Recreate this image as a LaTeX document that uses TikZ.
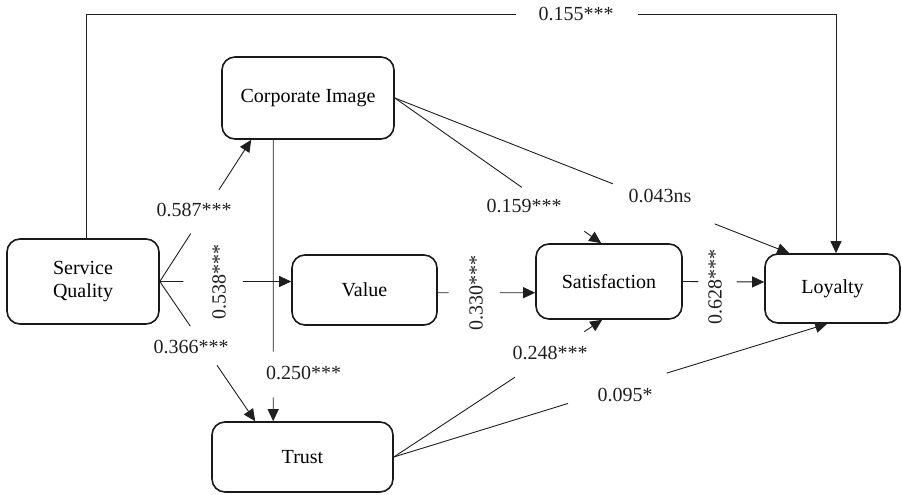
\documentclass[tikz,border=0pt]{standalone}
\usepackage{fontspec}
\setmainfont{Liberation Serif}
\usetikzlibrary{arrows.meta,calc}
\begin{document}
\begin{tikzpicture}[x=1pt,y=-1pt,
  box/.style={draw=black!90, line width=1.6pt, rounded corners=13pt, inner sep=0pt,
    align=center, font=\fontsize{20}{23}\selectfont},
  conn/.style={draw=black!88, line width=0.9pt},
  arr/.style={conn, -{Triangle[length=12pt,width=11pt]}},
  lbl/.style={font=\fontsize{20}{24}\selectfont, inner sep=0pt, text=black!88}]
\useasboundingbox (0,0) rectangle (902,495);
% nodes
\node[box, minimum width=152pt, minimum height=85pt] (sq) at (83,281.5) {Service\\Quality};
\node[box, minimum width=172pt, minimum height=82pt] (ci) at (308,98) {Corporate Image};
\node[box, minimum width=145pt, minimum height=70pt] (va) at (364.5,290) {Value};
\node[box, minimum width=181pt, minimum height=70pt] (tr) at (302.5,457) {Trust};
\node[box, minimum width=146pt, minimum height=75pt] (sa) at (609,281.5) {Satisfaction};
\node[box, minimum width=135pt, minimum height=69pt] (lo) at (832.5,288.5) {Loyalty};
% connector end points on the boxes
\coordinate (sqE) at (sq.east);
\coordinate (ciE) at (ci.east);
\coordinate (ciT) at ([xshift=30pt]ci.south west);
\coordinate (ciB) at ([xshift=52pt]ci.south west);
\coordinate (vaW) at ([yshift=8.5pt]va.west);
\coordinate (vaE) at ([yshift=-2.7pt]va.east);
\coordinate (trT1) at ([xshift=44pt]tr.north west);
\coordinate (trT2) at ([xshift=62pt]tr.north west);
\coordinate (trE) at (tr.east);
\coordinate (saW) at ([yshift=-11.2pt]sa.west);
\coordinate (saE) at (sa.east);
\coordinate (saT) at ([xshift=66pt]sa.north west);
\coordinate (saB) at ([xshift=67pt]sa.south west);
\coordinate (loW) at ([yshift=6.5pt]lo.west);
\coordinate (loT1) at ([xshift=25pt]lo.north west);
\coordinate (loT2) at ([xshift=3.5pt]lo.north);
\coordinate (loB) at ([xshift=63pt]lo.south west);
\coordinate (sqT) at ([xshift=3pt]sq.north);
\coordinate (g1) at (516,14);
\coordinate (g2) at (638,14);
% connectors (with gaps for the labels)
\draw[arr] (sqE) -- ($(sqE)!0.338!(ciT)$) ($(sqE)!0.648!(ciT)$) -- (ciT);
\draw[arr] (sqE) -- ($(sqE)!0.18!(vaW)$) ($(sqE)!0.632!(vaW)$) -- (vaW);
\draw[arr] (sqE) -- ($(sqE)!0.32!(trT1)$) ($(sqE)!0.60!(trT1)$) -- (trT1);
\draw[arr] (ciB) -- ($(ciB)!0.753!(trT2)$) ($(ciB)!0.915!(trT2)$) -- (trT2);
\draw[arr] (ciE) -- ($(ciE)!0.615!(saT)$) ($(ciE)!0.918!(saT)$) -- (saT);
\draw[arr] (ciE) -- ($(ciE)!0.553!(loT1)$) ($(ciE)!0.811!(loT1)$) -- (loT1);
\draw[arr] (vaE) -- ($(vaE)!0.11!(saW)$) ($(vaE)!0.636!(saW)$) -- (saW);
\draw[arr] (trE) -- ($(trE)!0.581!(saB)$) ($(trE)!0.914!(saB)$) -- (saB);
\draw[arr] (trE) -- ($(trE)!0.402!(loB)$) ($(trE)!0.63!(loB)$) -- (loB);
\draw[arr] (saE) -- ($(saE)!0.19!(loW)$) ($(saE)!0.66!(loW)$) -- (loW);
\draw[arr] (sqT) |- (g1) (g2) -| (loT2);
% labels
\node[lbl] (l1) at (576,14) {0.155***};
\node[lbl] (l2) at (194,210) {0.587***};
\node[lbl, rotate=90] (l3) at (219,282) {0.538***};
\node[lbl] (l4) at (191,347) {0.366***};
\node[lbl] (l5) at (303.5,373) {0.250***};
\node[lbl] (l6) at (524,206) {0.159***};
\node[lbl] (l7) at (660,196) {0.043ns};
\node[lbl, rotate=90] (l8) at (476,292.5) {0.330***};
\node[lbl, rotate=90] (l9) at (715,286.5) {0.628***};
\node[lbl] (l10) at (550,353) {0.248***};
\node[lbl] (l11) at (625,395) {0.095*};
\end{tikzpicture}
\end{document}
